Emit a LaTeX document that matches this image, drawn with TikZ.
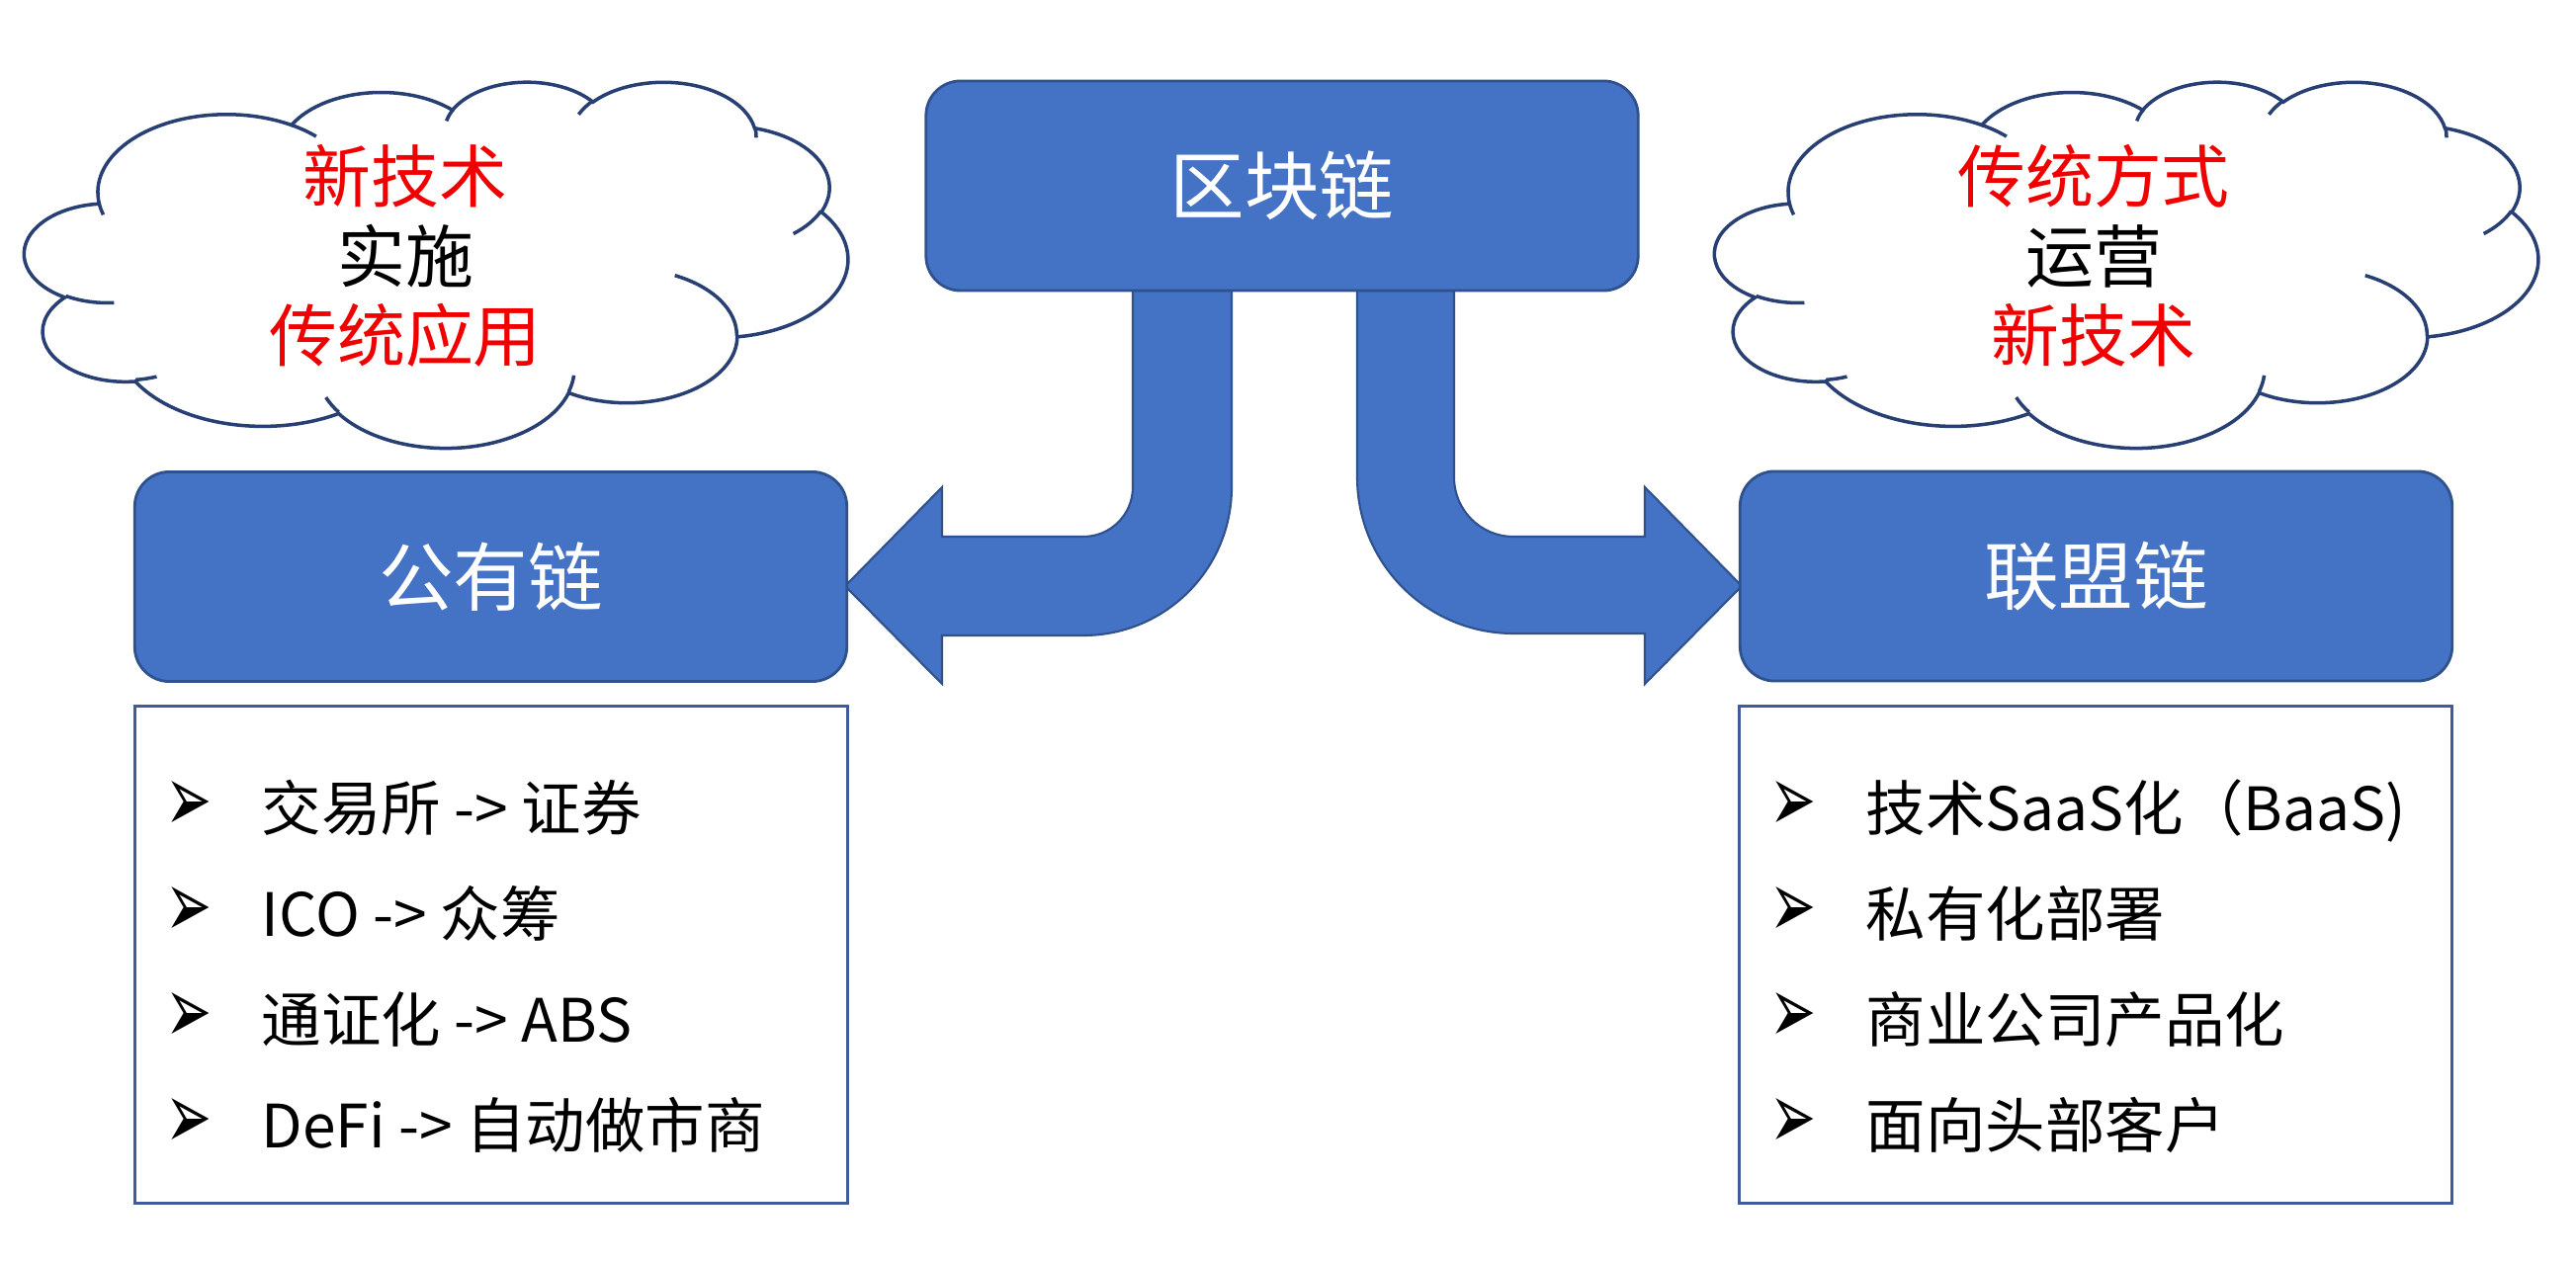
\documentclass[tikz,border=0pt]{standalone}
\usepackage{fontspec}
\usepackage{graphicx}
\setmainfont{Noto Sans CJK SC}
\newfontfamily\dejavu{DejaVu Sans}
\definecolor{boxblue}{HTML}{4472C4}
\definecolor{boxline}{HTML}{2F528F}
\definecolor{cloudline}{HTML}{283F74}
\definecolor{listline}{HTML}{3F5B9A}
\definecolor{txtred}{HTML}{F00000}

% OOXML-style arc (visual angles) -> TikZ arc (parametric angles)
\newcommand\ooarcdef[5]{%
  \pgfmathsetmacro\ooA{#4}%
  \pgfmathsetmacro\ooB{#4+#5}%
  \pgfmathsetmacro\ooS{atan2(#2*sin(\ooA),#3*cos(\ooA))}%
  \pgfmathsetmacro\ooE{atan2(#2*sin(\ooB),#3*cos(\ooB))}%
  \pgfmathsetmacro\ooD{mod(\ooE-\ooS+720,360)}%
  \pgfmathsetmacro\ooRx{#2/432}%
  \pgfmathsetmacro\ooRy{#3/432}%
  \expandafter\xdef\csname ooarc#1\endcsname{arc[start angle=\ooS, delta angle=\ooD, x radius=\ooRx, y radius=\ooRy]}%
}
\ooarcdef{A}{6753}{9190}{-190.48748}{123.78053}
\ooarcdef{B}{5333}{7267}{-144.10238}{89.94523}
\ooarcdef{C}{4365}{5945}{-145.80792}{99.72302}
\ooarcdef{D}{4857}{6595}{-130.98607}{117.24173}
\ooarcdef{E}{5333}{7273}{-78.70888}{109.02692}
\ooarcdef{F}{6775}{9220}{-46.26725}{130.26900}
\ooarcdef{G}{5785}{7867}{0.62502}{114.03333}
\ooarcdef{H}{6752}{9215}{22.45160}{115.17255}
\ooarcdef{I}{7720}{10543}{66.24263}{75.71102}
\ooarcdef{J}{4360}{5918}{-274.94208}{146.73557}
\ooarcdef{K}{4345}{5945}{-246.82850}{152.51885}
\ooarcdef{ia}{4345}{5945}{86.74200}{26.42950}
\ooarcdef{ib}{4360}{5918}{73.61047}{11.44747}
\ooarcdef{ic}{6752}{9215}{137.62415}{14.08110}
\ooarcdef{id}{6752}{9215}{6.45327}{15.99835}
\ooarcdef{ie}{5785}{7867}{-70.29235}{70.91737}
\ooarcdef{if}{5333}{7273}{30.31803}{27.75150}
\ooarcdef{ig}{4857}{6595}{-13.74433}{14.85890}
\ooarcdef{ih}{4857}{6595}{-149.18145}{18.19537}
\ooarcdef{ii}{4365}{5945}{-163.49427}{17.68635}
\ooarcdef{ij}{6753}{9190}{-66.70695}{12.31935}
\ooarcdef{ik}{6753}{9190}{157.65435}{11.85817}

\newcommand\drawmycloud[2]{%
\begin{scope}[shift={(#1,#2)}, x=0.0832cm, y=-0.037cm]
  \draw[cloudstroke, fill=white] (9.0278,33.2639) \ooarcA \ooarcB \ooarcC \ooarcD \ooarcE \ooarcF \ooarcG \ooarcH \ooarcI \ooarcJ \ooarcK -- cycle;
  \draw[cloudstroke] (10.8634,60.5949) \ooarcia
    (16.0370,80.7847) \ooarcib
    (38.1435,90.4861) \ooarcic
    (66.7292,80.4421) \ooarcid
    (79.0023,53.1343) \ooarcie
    (96.7546,35.5417) \ooarcif
    (88.7130,12.5602) \ooarcig
    (67.3102,9.1481) \ooarcih
    (51.2523,10.9259) \ooarcii
    (32.4074,12.0185) \ooarcij
    (9.5532,36.5486) \ooarcik;
\end{scope}}

\newcommand\mybul{\scalebox{1.0}[1.7]{\dejavu\bfseries ➢}}

\tikzset{
  bluebox/.style={draw=boxline, line width=0.8pt, fill=boxblue, rounded corners=0.35cm,
    minimum width=7.2cm, minimum height=2.12cm, inner sep=0pt, text=white,
    font=\fontsize{21.5pt}{26pt}\selectfont},
  listbox/.style={draw=listline, line width=0.9pt, fill=white,
    minimum width=7.2cm, minimum height=5.02cm, inner sep=0pt},
  listitem/.style={anchor=west, inner sep=0pt, font=\fontsize{17.2pt}{20pt}\selectfont,
    text height=15.1pt, text depth=2.1pt},
  bulletmark/.style={inner sep=0pt, font=\fontsize{16pt}{18pt}\selectfont},
  cloudtext/.style={align=center, inner sep=0pt, font=\fontsize{19.6pt}{22.9pt}\selectfont},
  blockarrow/.style={fill=boxblue, draw=boxline, line width=0.6pt, line join=miter},
  cloudstroke/.style={draw=cloudline, line width=1pt},
}

\begin{document}
\begin{tikzpicture}[x=0.01cm, y=-0.01cm]
\useasboundingbox (0,0) rectangle (2606,1280);
\fill[white] (0,0) rectangle (2606,1280);

% clouds
\drawmycloud{25}{82}
\drawmycloud{1735}{82}
\node[cloudtext] (lcloud) at (410,259) {{\color{txtred}新技术}\\实施\\{\color{txtred}传统应用}};
\node[cloudtext] (rcloud) at (2118,259) {{\color{txtred}传统方式}\\运营\\{\color{txtred}新技术}};

% bent block arrows
\draw[blockarrow] (1146,294) -- (1146,493) arc[start angle=0, end angle=90, radius=50]
  -- (953,543) -- (953,493) -- (855,593) -- (953,692) -- (953,643) -- (1096,643)
  arc[start angle=90, end angle=0, radius=150] -- (1246,294) -- cycle;
\draw[blockarrow] (1471,294) -- (1471,483) arc[start angle=180, end angle=90, radius=60]
  -- (1664,543) -- (1664,493) -- (1762,593) -- (1664,692) -- (1664,641) -- (1531,641)
  arc[start angle=90, end angle=180, radius=158] -- (1373,294) -- cycle;

% boxes
\node[bluebox] (chain) at (1297,188) {区块链};
\node[bluebox] (pub) at (496.5,583.5) {公有链};
\node[bluebox] (cons) at (2120.5,583) {联盟链};
\node[listbox] (publist) at (497,966) {};
\node[listbox] (conslist) at (2120,966) {};

% left list
\node[bulletmark] (pb1) at (191,816) {\mybul};
\node[bulletmark] (pb2) at (191,923) {\mybul};
\node[bulletmark] (pb3) at (191,1030) {\mybul};
\node[bulletmark] (pb4) at (191,1137) {\mybul};
\node[listitem] (pt1) at (264,818) {交易所 -> 证券};
\node[listitem] (pt2) at (264,925) {ICO -> 众筹};
\node[listitem] (pt3) at (264,1032) {通证化 -> ABS};
\node[listitem] (pt4) at (264,1139) {DeFi -> 自动做市商};

% right list
\node[bulletmark] (cb1) at (1814,816) {\mybul};
\node[bulletmark] (cb2) at (1814,923) {\mybul};
\node[bulletmark] (cb3) at (1814,1030) {\mybul};
\node[bulletmark] (cb4) at (1814,1137) {\mybul};
\node[listitem] (ct1) at (1887,818) {技术SaaS化（BaaS)};
\node[listitem] (ct2) at (1887,925) {私有化部署};
\node[listitem] (ct3) at (1887,1032) {商业公司产品化};
\node[listitem] (ct4) at (1887,1139) {面向头部客户};
\end{tikzpicture}
\end{document}
